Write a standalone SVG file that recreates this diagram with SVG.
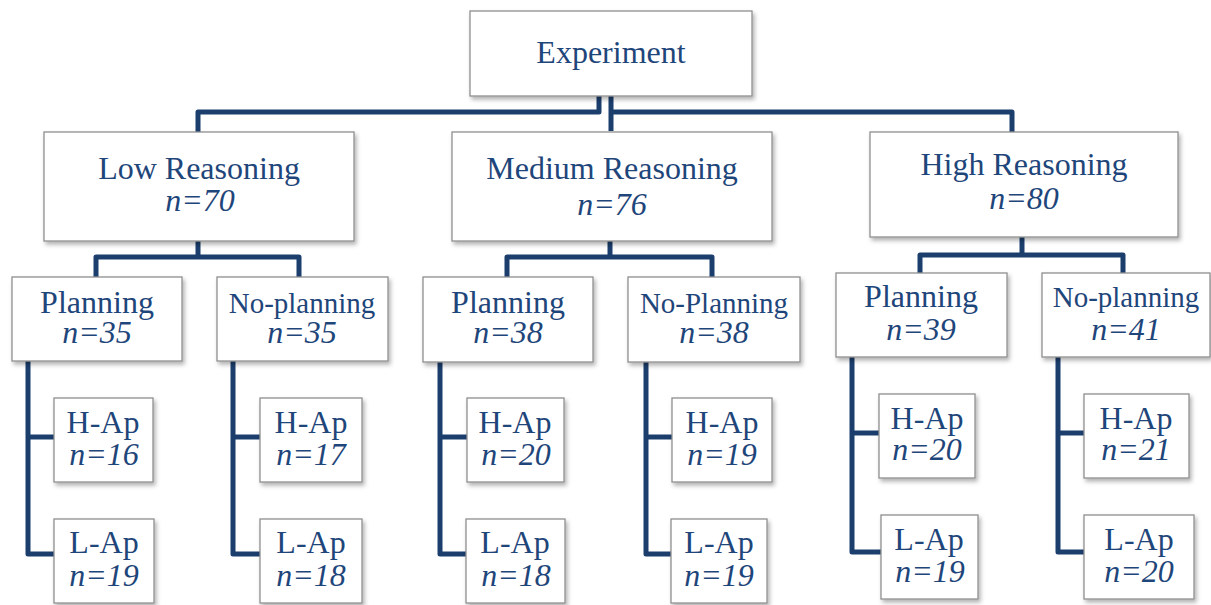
<svg xmlns="http://www.w3.org/2000/svg" width="1211" height="605" viewBox="0 0 1211 605">
<style>
.box{fill:#fff;stroke:#8f8f8f;stroke-width:1.3;filter:url(#sh)}
.t{font-family:"Liberation Serif","Times New Roman",serif;font-size:32px;fill:#1F467A;text-anchor:middle}
.i{font-style:italic}
.s{font-size:29px}
.c{fill:none;stroke:#1B3E6D;stroke-width:5;stroke-linejoin:round;stroke-linecap:butt}
</style>
<defs>
<filter id="sh" x="-10%" y="-10%" width="130%" height="130%">
<feDropShadow dx="2" dy="3" stdDeviation="2" flood-color="#000" flood-opacity="0.3"/>
</filter>
</defs>
<rect width="1211" height="605" fill="#fff"/>
<g id="connectors">
<path class="c" d="M599,96 V112 H198 V132"/>
<path class="c" d="M611,96 V131"/>
<path class="c" d="M611,112 H1012 V132"/>
<path class="c" d="M198,241 V257"/>
<path class="c" d="M96,277 V257 H299 V277"/>
<path class="c" d="M610,241 V257"/>
<path class="c" d="M507,277 V257 H712 V277"/>
<path class="c" d="M1022,237 V255"/>
<path class="c" d="M920,273 V255 H1123 V273"/>
<path class="c" d="M28,361 V554 H54"/>
<path class="c" d="M28,437 H54"/>
<path class="c" d="M233,361 V554 H260"/>
<path class="c" d="M233,437 H260"/>
<path class="c" d="M440,362 V554 H466"/>
<path class="c" d="M440,437 H467"/>
<path class="c" d="M646,362 V554 H671"/>
<path class="c" d="M646,437 H672"/>
<path class="c" d="M852,357 V552 H881"/>
<path class="c" d="M852,433 H879"/>
<path class="c" d="M1058,357 V552 H1084"/>
<path class="c" d="M1058,433 H1084"/>
</g>
<g id="experiment"><rect class="box" x="470" y="11" width="282" height="85"/><text class="t" x="611" y="63">Experiment</text></g>
<g id="low"><rect class="box" x="44" y="132" width="310" height="109"/><text class="t" x="199" y="179">Low Reasoning</text><text class="t i" x="200" y="211">n=70</text></g>
<g id="medium"><rect class="box" x="452" y="132" width="320" height="109"/><text class="t" x="612" y="179">Medium Reasoning</text><text class="t i" x="612" y="215">n=76</text></g>
<g id="high"><rect class="box" x="870" y="132" width="308" height="105"/><text class="t" x="1024" y="175">High Reasoning</text><text class="t i" x="1024" y="209">n=80</text></g>
<g id="low-planning"><rect class="box" x="12" y="277" width="170" height="84"/><text class="t" x="97" y="313">Planning</text><text class="t i" x="97" y="343">n=35</text></g>
<g id="low-noplanning"><rect class="box" x="217" y="277" width="171" height="84"/><text class="t s" x="302" y="313">No-planning</text><text class="t i" x="302" y="343">n=35</text></g>
<g id="medium-planning"><rect class="box" x="423" y="277" width="170" height="85"/><text class="t" x="508" y="313">Planning</text><text class="t i" x="508" y="343">n=38</text></g>
<g id="medium-noplanning"><rect class="box" x="628" y="277" width="172" height="85"/><text class="t s" x="714" y="313">No-Planning</text><text class="t i" x="714" y="343">n=38</text></g>
<g id="high-planning"><rect class="box" x="836" y="273" width="171" height="84"/><text class="t" x="921" y="307">Planning</text><text class="t i" x="921" y="340">n=39</text></g>
<g id="high-noplanning"><rect class="box" x="1042" y="273" width="168" height="84"/><text class="t s" x="1126" y="307">No-planning</text><text class="t i" x="1126" y="340">n=41</text></g>
<g id="lp-hap"><rect class="box" x="54" y="398" width="99" height="84"/><text class="t" x="103" y="433">H-Ap</text><text class="t i" x="104" y="465">n=16</text></g>
<g id="lp-lap"><rect class="box" x="54" y="519" width="100" height="84"/><text class="t" x="104" y="553">L-Ap</text><text class="t i" x="104" y="586">n=19</text></g>
<g id="ln-hap"><rect class="box" x="260" y="398" width="102" height="84"/><text class="t" x="311" y="433">H-Ap</text><text class="t i" x="311" y="465">n=17</text></g>
<g id="ln-lap"><rect class="box" x="260" y="519" width="102" height="84"/><text class="t" x="311" y="553">L-Ap</text><text class="t i" x="311" y="586">n=18</text></g>
<g id="mp-hap"><rect class="box" x="467" y="398" width="97" height="84"/><text class="t" x="515" y="433">H-Ap</text><text class="t i" x="516" y="465">n=20</text></g>
<g id="mp-lap"><rect class="box" x="466" y="519" width="99" height="84"/><text class="t" x="515" y="553">L-Ap</text><text class="t i" x="516" y="586">n=18</text></g>
<g id="mn-hap"><rect class="box" x="672" y="398" width="100" height="84"/><text class="t" x="722" y="433">H-Ap</text><text class="t i" x="722" y="465">n=19</text></g>
<g id="mn-lap"><rect class="box" x="671" y="519" width="96" height="84"/><text class="t" x="719" y="553">L-Ap</text><text class="t i" x="719" y="586">n=19</text></g>
<g id="hp-hap"><rect class="box" x="879" y="394" width="96" height="84"/><text class="t" x="927" y="429">H-Ap</text><text class="t i" x="927" y="460">n=20</text></g>
<g id="hp-lap"><rect class="box" x="881" y="515" width="97" height="84"/><text class="t" x="929" y="550">L-Ap</text><text class="t i" x="930" y="582">n=19</text></g>
<g id="hn-hap"><rect class="box" x="1084" y="394" width="105" height="84"/><text class="t" x="1136" y="429">H-Ap</text><text class="t i" x="1136" y="460">n=21</text></g>
<g id="hn-lap"><rect class="box" x="1084" y="515" width="110" height="84"/><text class="t" x="1139" y="550">L-Ap</text><text class="t i" x="1139" y="582">n=20</text></g>
</svg>
